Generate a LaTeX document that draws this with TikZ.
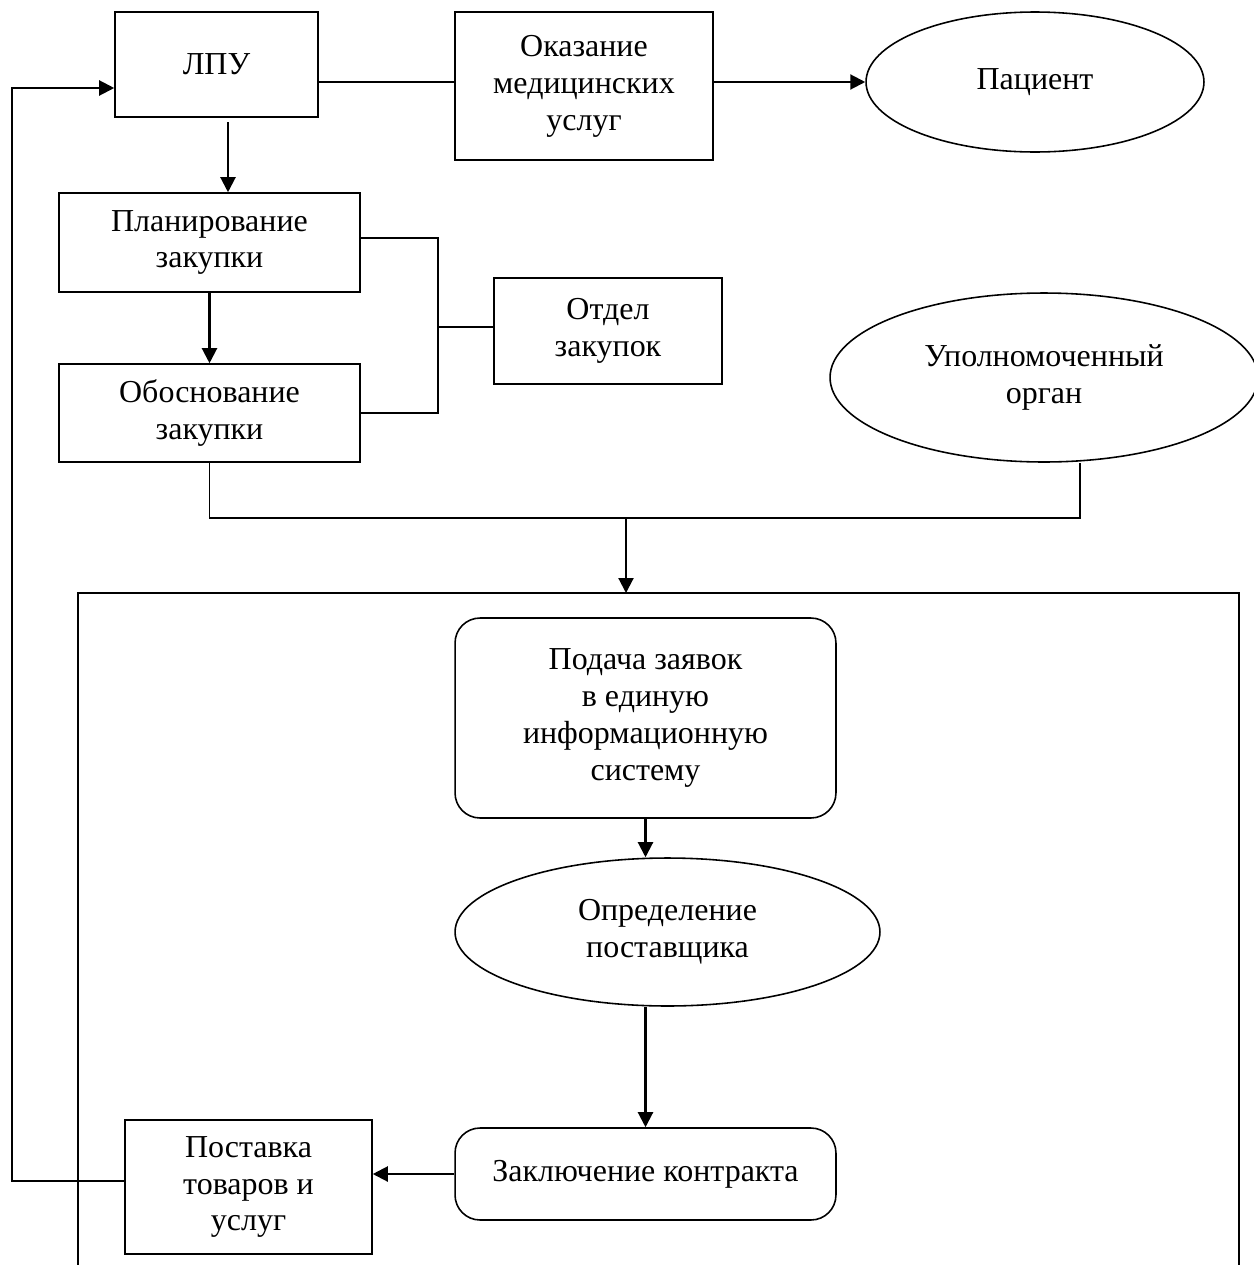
\documentclass[tikz,border=0pt]{standalone}
\usepackage{fontspec}
\setmainfont{Liberation Serif}
\usepackage{tikz}
\usetikzlibrary{arrows.meta,positioning,calc,shapes.geometric}

\begin{document}
\begin{tikzpicture}[
  x=0.02cm, y=-0.02cm,
  every node/.style={font=\fontsize{18.2}{21}\selectfont, align=center},
  box/.style={draw, line width=0.9pt, inner sep=2pt},
  rbox/.style={draw, line width=0.9pt, rounded corners=0.5cm, inner sep=2pt},
  oval/.style={draw, ellipse, line width=0.9pt, inner sep=0pt},
  conn/.style={line width=0.9pt},
  arr/.style={line width=1.2pt, -{Triangle[length=0.3cm, width=0.3cm]}}
]
\useasboundingbox (0,0) rectangle (1254,1265);

\node[box, minimum width=4.06cm, minimum height=2.1cm] (lpu) at (216.5,64.5) {ЛПУ};
\node[box, minimum width=5.16cm, minimum height=2.96cm] (okaz) at (584,86) {Оказание\\медицинских\\услуг};
\node[oval, minimum width=6.76cm, minimum height=2.8cm] (pac) at (1035,82) {Пациент};

\node[box, minimum width=6.02cm, minimum height=1.98cm] (plan) at (209.5,242.5) {Планирование\\закупки};
\node[box, minimum width=6.02cm, minimum height=1.96cm] (obos) at (209.5,413) {Обоснование\\закупки};
\node[box, minimum width=4.56cm, minimum height=2.12cm] (otdel) at (608,331) {Отдел\\закупок};
\node[oval, minimum width=8.56cm, minimum height=3.38cm] (upol) at (1044,377.5) {Уполномоченный\\орган};

\node[rbox, minimum width=7.62cm, minimum height=4.0cm] (podacha) at (645.5,718) {Подача заявок\\в единую\\информационную\\систему};
\node[oval, minimum width=8.5cm, minimum height=2.96cm] (opred) at (667.5,932) {Определение\\поставщика};
\node[rbox, minimum width=7.62cm, minimum height=1.84cm] (zakl) at (645.5,1174) {Заключение контракта};
\node[box, minimum width=4.94cm, minimum height=2.68cm] (post) at (248.5,1187) {Поставка\\товаров и\\услуг};

\coordinate (fb1) at (12,1181);
\coordinate (fb2) at (12,88);
\coordinate (d1) at (228,122);
\coordinate (br) at (438,327);
\coordinate (mj) at (626,518);
\coordinate (uj) at (1080,518);
\coordinate (ftl) at (78,593);
\coordinate (ftr) at (1239,593);

\draw[conn] (lpu.east |- pac) -- (okaz.west |- pac);
\draw[arr] (okaz.east |- pac) -- (pac.west);
\draw[arr] (d1) -- (d1 |- plan.north);
\draw[arr] (plan) -- (obos);
\draw[conn] (plan.east |- 0,238) -| (br);
\draw[conn] (obos.east) -| (br);
\draw[conn] (br) -- (br -| otdel.west);
\draw[conn] (obos.south) |- (uj) -- (uj |- upol.south);
\draw[arr] (mj) -- (mj |- ftl);
\draw[conn] (ftl |- 0,1265) -- (ftl) -- (ftr) -- (ftr |- 0,1265);
\draw[arr] (podacha.south) -- (podacha.south |- opred.north);
\draw[arr] (zakl.north |- opred.south) -- (zakl.north);
\draw[arr] (zakl.west) -- (zakl.west -| post.east);
\draw[arr] (fb1 -| post.west) -- (fb1) -- (fb2) -- (fb2 -| lpu.west);
\end{tikzpicture}
\end{document}
